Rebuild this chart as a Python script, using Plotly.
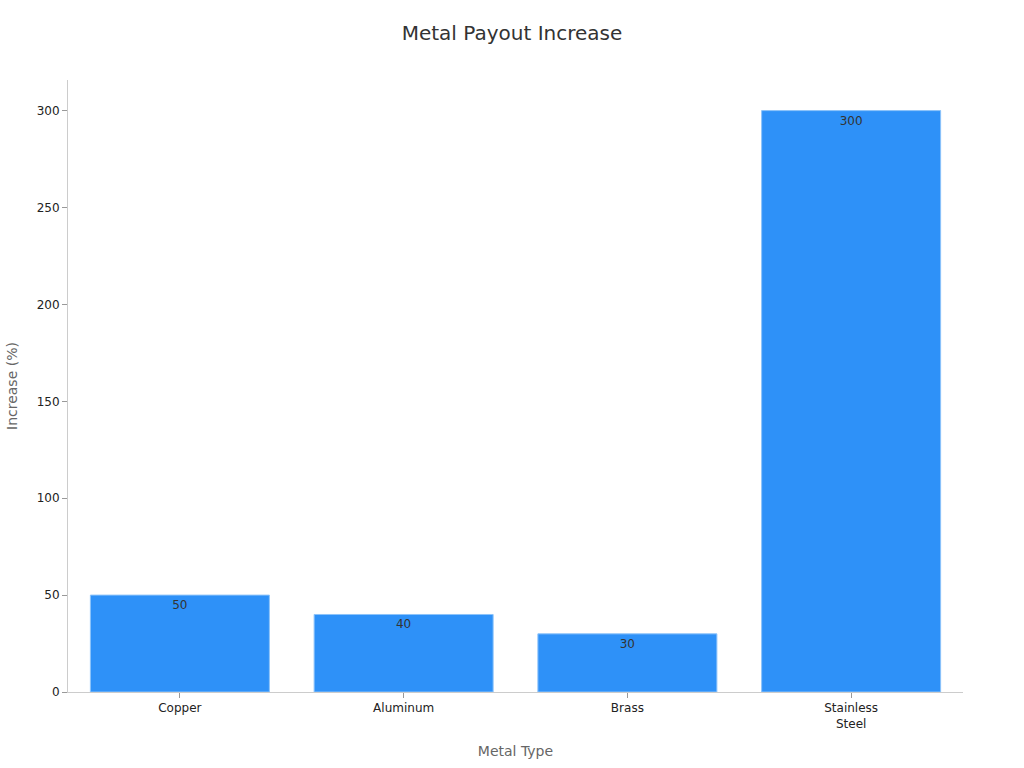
import plotly.graph_objects as go

# chart data
metals = ["Copper", "Aluminum", "Brass", "Stainless<br>Steel"]
increase_pct = [50, 40, 30, 300]
bar_labels = ["50", "40", "30", "300"]

fig = go.Figure()

fig.add_trace(go.Bar(
    x=metals,
    y=increase_pct,
    text=bar_labels,
    textposition="inside",
    insidetextanchor="end",
    textfont=dict(family="DejaVu Sans", size=12, color="#333333"),
    marker=dict(color="#2E91F8", line=dict(color="#8CC3FA", width=1)),
    hoverinfo="x+y",
))

fig.update_layout(
    width=1024,
    height=768,
    paper_bgcolor="white",
    plot_bgcolor="white",
    font=dict(family="DejaVu Sans", size=12, color="#222222"),
    title=dict(text="Metal Payout Increase", x=0.5, xanchor="center",
               y=0.957, yanchor="middle",
               font=dict(size=20, color="#333333")),
    margin=dict(l=68, r=61, t=80, b=76),
    bargap=0.2,
    showlegend=False,
)

fig.update_xaxes(
    title=dict(text="Metal Type", font=dict(size=14, color="#666666"), standoff=16),
    automargin=False,
    showline=True, linecolor="#cccccc", linewidth=1,
    ticks="outside", ticklen=5, tickcolor="#999999",
    showgrid=False,
    tickfont=dict(size=12, color="#222222"),
)

fig.update_yaxes(
    title=dict(text="Increase (%)", font=dict(size=14, color="#666666"), standoff=15),
    automargin=False,
    showline=True, linecolor="#cccccc", linewidth=1,
    ticks="outside", ticklen=5, tickcolor="#999999",
    showgrid=False, zeroline=False,
    tickfont=dict(size=12, color="#222222"),
)

# drop the default page margin so the figure sits at the window's corner
fig.write_html("out.html", config={"displayModeBar": False},
               post_script="document.body.style.margin='0';")
